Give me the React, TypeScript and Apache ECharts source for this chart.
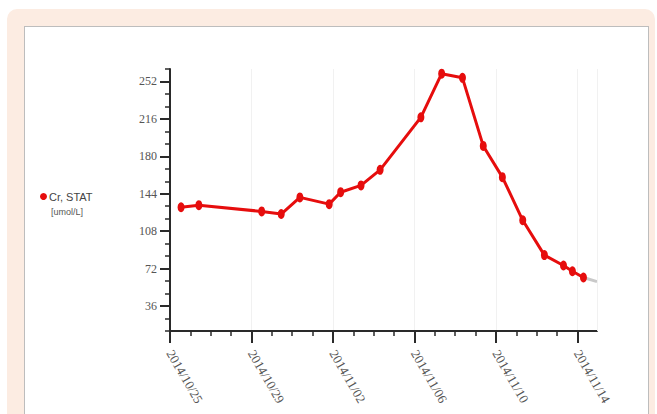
import React, { useEffect, useRef } from "react";
import * as echarts from "echarts";

// Measurement times (UTC) and values of Cr, STAT [umol/L]
const sampleTimes = [
  "2014-10-25 13:00",
  "2014-10-26 10:00",
  "2014-10-29 12:00",
  "2014-10-30 11:00",
  "2014-10-31 09:00",
  "2014-11-01 19:30",
  "2014-11-02 09:00",
  "2014-11-03 09:00",
  "2014-11-04 07:30",
  "2014-11-06 07:30",
  "2014-11-07 08:00",
  "2014-11-08 08:30",
  "2014-11-09 09:00",
  "2014-11-10 07:30",
  "2014-11-11 07:30",
  "2014-11-12 09:00",
  "2014-11-13 07:30",
  "2014-11-13 18:00",
  "2014-11-14 07:00",
];
const crValues = [
  131, 133, 127, 124.5, 140.5, 134, 145.5, 152, 167, 217.5, 259.5, 255.5, 190,
  160, 118.5, 85, 75, 69.5, 63.5,
];

// grey continuation after the last sample
const trendTimes = ["2014-11-14 07:00", "2014-11-14 23:00"];
const trendValues = [63.5, 59.5];

// axis ticks
const xRange = ["2014-10-25 00:00", "2014-11-14 23:00"];
const xMajorTicks = [
  "2014-10-25 00:00",
  "2014-10-29 00:00",
  "2014-11-02 00:00",
  "2014-11-06 00:00",
  "2014-11-10 00:00",
  "2014-11-14 00:00",
];
const xMinorTicks = [
  "2014-10-26 00:00", "2014-10-27 00:00", "2014-10-28 00:00",
  "2014-10-30 00:00", "2014-10-31 00:00", "2014-11-01 00:00",
  "2014-11-03 00:00", "2014-11-04 00:00", "2014-11-05 00:00",
  "2014-11-07 00:00", "2014-11-08 00:00", "2014-11-09 00:00",
  "2014-11-11 00:00", "2014-11-12 00:00", "2014-11-13 00:00",
];
const yMajorTicks = [36, 72, 108, 144, 180, 216, 252];
const yMinorTicks = [12, 24, 48, 60, 84, 96, 120, 132, 156, 168, 192, 204, 228, 240, 264];
const yRange = [12, 264];

const seriesName = "Cr, STAT";
const unitLabel = "[umol/L]";

function parseTime(s: string): number {
  const [d, t] = s.split(" ");
  const [y, m, dd] = d.split("-").map(Number);
  const [h, mi] = t.split(":").map(Number);
  return Date.UTC(y, m - 1, dd, h, mi);
}

function fmtDate(v: number): string {
  const d = new Date(v);
  const p = (n: number) => (n < 10 ? "0" + n : "" + n);
  return d.getUTCFullYear() + "/" + p(d.getUTCMonth() + 1) + "/" + p(d.getUTCDate());
}

export default function App() {
  const ref = useRef<HTMLDivElement>(null);

  useEffect(() => {
    if (!ref.current) return;
    const chart = echarts.init(ref.current, null, { renderer: "svg" });
    const xMin = parseTime(xRange[0]);
    const xMax = parseTime(xRange[1]);
    const majorX = xMajorTicks.map(parseTime);
    const minorX = xMinorTicks.map(parseTime);
    const red = "#e60d0d";
    const axisColor = "#2a2a2a";
    const labelFont = "'Liberation Serif', 'DejaVu Serif', serif";

    chart.setOption({
      animation: false,
      backgroundColor: "transparent",
      grid: { left: 170, right: 60, top: 69, bottom: 83, containLabel: false },
      legend: {
        data: [seriesName],
        left: 35,
        top: 186,
        icon: "circle",
        itemWidth: 7,
        itemHeight: 10,
        itemGap: 4,
        textStyle: {
          fontFamily: "'Liberation Sans', Arial, sans-serif",
          fontSize: 11,
          color: "#444",
          padding: [0, 0, 0, -3],
        },
      },
      graphic: [
        {
          type: "text",
          left: 51,
          top: 207,
          style: {
            text: unitLabel,
            fontSize: 9,
            fill: "#555",
            fontFamily: "'Liberation Sans', Arial, sans-serif",
          },
        },
      ],
      xAxis: [
        {
          type: "value",
          position: "bottom",
          min: xMin,
          max: xMax,
          axisLine: { show: true, onZero: false, lineStyle: { color: axisColor, width: 2 } },
          axisTick: {
            show: true,
            customValues: majorX,
            length: 12,
            lineStyle: { color: axisColor, width: 2 },
          },
          axisLabel: {
            show: true,
            customValues: majorX,
            formatter: (v: number) => fmtDate(v),
            rotate: -60,
            margin: 20,
            fontFamily: labelFont,
            fontSize: 13,
            color: "#555",
          },
          splitLine: { show: true, lineStyle: { color: "#f1f1f1", width: 1 } },
        },
        {
          type: "value",
          position: "bottom",
          min: xMin,
          max: xMax,
          axisLine: { show: false },
          axisTick: {
            show: true,
            customValues: minorX,
            length: 5,
            lineStyle: { color: axisColor, width: 1.5 },
          },
          axisLabel: { show: false },
          splitLine: { show: false },
        },
      ],
      yAxis: [
        {
          type: "value",
          position: "left",
          min: yRange[0],
          max: yRange[1],
          axisLine: { show: true, onZero: false, lineStyle: { color: axisColor, width: 2 } },
          axisTick: {
            show: true,
            customValues: yMajorTicks,
            length: 10,
            lineStyle: { color: axisColor, width: 2 },
          },
          axisLabel: {
            show: true,
            customValues: yMajorTicks,
            margin: 13,
            fontFamily: labelFont,
            fontSize: 12,
            color: "#555",
          },
          splitLine: { show: false },
        },
        {
          type: "value",
          position: "left",
          min: yRange[0],
          max: yRange[1],
          axisLine: { show: false },
          axisTick: {
            show: true,
            customValues: yMinorTicks,
            length: 5,
            lineStyle: { color: axisColor, width: 1.5 },
          },
          axisLabel: { show: false },
          splitLine: { show: false },
        },
      ],
      series: [
        {
          name: "trend",
          type: "line",
          xAxisIndex: 0,
          yAxisIndex: 0,
          data: trendTimes.map((t, i) => [parseTime(t), trendValues[i]]),
          showSymbol: false,
          symbol: "none",
          lineStyle: { color: "#c9c9c9", width: 3 },
          z: 1,
          silent: true,
          markLine: {
            silent: true,
            symbol: "none",
            label: { show: false },
            lineStyle: { color: "#f1f1f1", type: "solid", width: 1 },
            data: [{ xAxis: xMax }],
          },
        },
        {
          name: seriesName,
          type: "line",
          xAxisIndex: 0,
          yAxisIndex: 0,
          data: sampleTimes.map((t, i) => [parseTime(t), crValues[i]]),
          symbol: "circle",
          symbolSize: [7, 10],
          showAllSymbol: true,
          lineStyle: { color: red, width: 3 },
          itemStyle: { color: red },
          z: 3,
        },
      ],
    });
    return () => chart.dispose();
  }, []);

  return (
    <div
      style={{
        position: "fixed",
        left: 0,
        top: 0,
        width: 657,
        height: 414,
        background: "#ffffff",
        overflow: "hidden",
      }}
    >
      <div
        style={{
          position: "absolute",
          left: 7,
          top: 9,
          width: 648,
          height: 440,
          background: "#fcece2",
          borderRadius: 10,
        }}
      />
      <div
        style={{
          position: "absolute",
          left: 24,
          top: 26,
          width: 623,
          height: 420,
          background: "#ffffff",
          border: "1px solid #bdbdbd",
        }}
      />
      <div
        ref={ref}
        style={{ position: "absolute", left: 0, top: 0, width: 657, height: 414 }}
      />
    </div>
  );
}
